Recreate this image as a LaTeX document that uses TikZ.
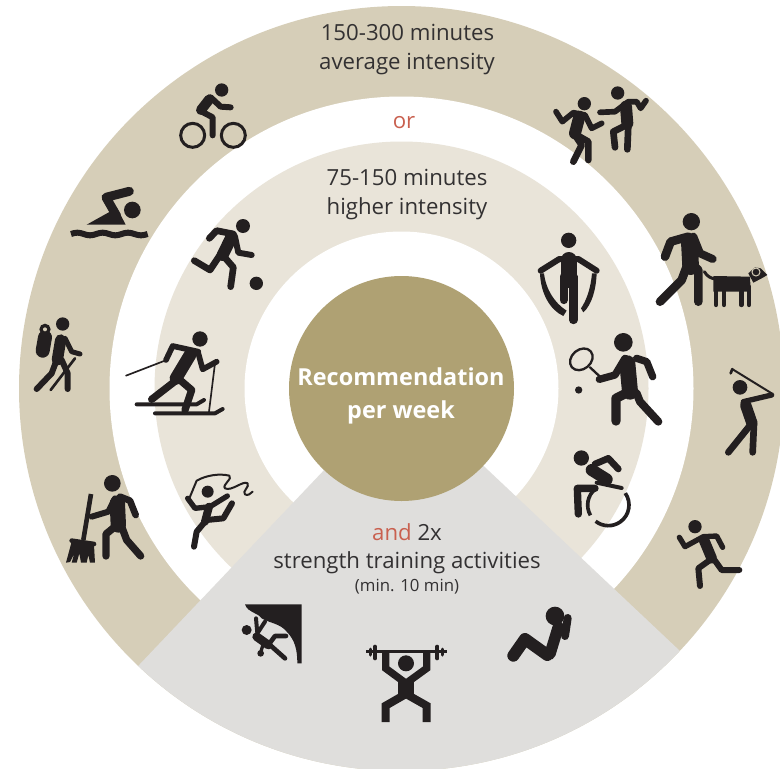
\documentclass[tikz,border=0pt]{standalone}
\usepackage{fontspec}
\usetikzlibrary{calc}
\setmainfont{Open Sans}
\definecolor{ringout}{HTML}{D6CEB8}
\definecolor{ringin}{HTML}{E9E4D9}
\definecolor{hub}{HTML}{AFA173}
\definecolor{wedge}{HTML}{DFDEDC}
\definecolor{ink}{HTML}{231F20}
\definecolor{txt}{HTML}{333132}
\definecolor{redtxt}{HTML}{C9604F}
\tikzset{
  zm/.style 2 args={shift={(#1,#2)},x=0.33333pt,y=-0.33333pt},
  ln/.style={draw=ink,line cap=round,line join=round,line width=#1*0.33333pt},
  bt/.style={draw=ink,line cap=butt,line join=miter,line width=#1*0.33333pt},
  lab/.style={anchor=base,text=txt,font=\fontsize{22.2}{26}\selectfont,inner sep=0pt},
}
\begin{document}
\begin{tikzpicture}[x=1pt,y=-1pt]
\useasboundingbox (0,0) rectangle (780,769);
\clip (0,0) rectangle (780,769);
\coordinate (c) at (401.5,388.5);
% rings
\fill[ringout] (c) circle (382.5);
\fill[white] (c) circle (292);
\fill[ringin] (c) circle (247);
\fill[white] (c) circle (157);
% wedge
\begin{scope}
\clip (c) circle (382.5);
\fill[wedge] (c) -- ($(c)!1.2!(140,664)$) -- (401.5,1000) -- ($(c)!1.2!(680,651)$) -- cycle;
\end{scope}
\fill[hub] (c) circle (112.5);
% texts
\node[lab] (t1) at (407.5,40) {150-300 minutes};
\node[lab] (t2) at (407,69) {average intensity};
\node[lab,text=redtxt] (t3) at (404,128) {or};
\node[lab] (t4) at (407,185) {75-150 minutes};
\node[lab] (t5) at (407,214) {higher intensity};
\node[lab,text=white,font=\fontsize{23.4}{28}\selectfont\bfseries] (t6) at (401,385) {Recommendation};
\node[lab,text=white,font=\fontsize{23.4}{28}\selectfont\bfseries] (t7) at (401,418) {per week};
\node[lab] (t8) at (407,540) {\textcolor{redtxt}{and} 2x};
\node[lab] (t9) at (407,568) {strength training activities};
\node[lab,font=\fontsize{16.8}{20}\selectfont] (t10) at (407,591) {(min. 10 min)};
% ---- zoom (0,60)
\begin{scope}[zm={0}{60}]
% cyclist
\fill[ink] (665,90) circle (20);
\draw[ln=30] (628,118)--(603,150);
\draw[ln=18] (632,112)--(662,140)--(692,142);
\draw[ln=18] (600,152)--(638,172)--(638,226);
\draw[ln=9] (578,226) circle (36);
\draw[ln=9] (700,226) circle (36);
% swimmer
\fill[ink] (397,450) circle (25);
\draw[ln=27] (388,394)--(318,412)--(350,468);
\fill[ink] (260,494)--(377,494)--(350,442)--(330,455)--cycle;
\draw[bt=18] (213,522) sin (232,518) cos (251,522) sin (270,526) cos (289,522) sin (308,518) cos (327,522) sin (346,526) cos (365,522) sin (384,518) cos (403,522) sin (423,526) cos (443,522);
% soccer
\fill[ink] (729,498) circle (21);
\draw[ln=20] (628,535)--(650,512)--(700,522);
\draw[ln=18] (705,530)--(715,578)--(755,585);
\draw[ln=36] (695,530)--(668,585);
\draw[ln=20] (660,585)--(630,630)--(583,602);
\draw[ln=20] (668,585)--(700,622)--(692,680);
\fill[ink] (769,670) circle (20);
\end{scope}
% ---- zoom (520,60)
\begin{scope}[zm={520}{60}]
% dancer 1
\fill[ink] (193,131) circle (20);
\draw[ln=36] (178,170)--(165,220);
\draw[ln=17] (108,155)--(127,185)--(160,158)--(195,165)--(215,205)--(245,190);
\draw[ln=20] (165,225)--(185,255)--(160,305);
\draw[ln=20] (170,225)--(205,245)--(205,300);
% dancer 2
\fill[ink] (293,99) circle (20);
\draw[ln=36] (318,140)--(322,190);
\draw[ln=17] (240,157)--(285,155)--(325,125)--(350,125)--(362,145)--(378,122);
\draw[ln=20] (320,195)--(280,215)--(285,262);
\draw[ln=20] (325,195)--(322,268);
% walker
\fill[ink] (514,485) circle (26);
\draw[ln=50] (508,545)--(512,620);
\draw[ln=26] (435,590)--(452,545)--(505,530);
\draw[ln=24] (520,530)--(540,580)--(578,597);
\draw[ln=26] (500,620)--(485,660)--(420,725);
\draw[ln=26] (525,620)--(535,630)--(535,725);
% dog
\fill[ink] (580,648)--(690,650)--(692,695)--(580,695)--cycle;
\draw[ln=9] (553,635) .. controls (562,650) and (572,655) .. (590,658);
\foreach \dx in {588,612,664,687}{\draw[ln=13] (\dx,680)--(\dx,735);}
\fill[ink] (685,640)--(705,622)--(722,625)--(742,645)--(725,655)--(700,668)--cycle;
\draw[draw=ringout,line width=1pt] (708,636) circle (12);
% rope jumper
\fill[ink] (146,541) circle (23);
\draw[ln=18] (62,632)--(118,597)--(175,597)--(230,632);
\draw[ln=48] (146,600)--(146,660);
\draw[ln=25] (131,650)--(131,720);
\draw[ln=25] (160,650)--(160,780);
\fill[ink] (60,640)--(72,640) .. controls (78,690) and (105,730) .. (140,752)--(130,768) .. controls (90,750) and (62,700) .. (60,640)--cycle;
\fill[ink] (230,640)--(216,640) .. controls (212,685) and (200,720) .. (183,745)--(190,757) .. controls (215,735) and (228,690) .. (230,640)--cycle;
\end{scope}
% ---- zoom (20,310)
\begin{scope}[zm={20}{310}]
% hiker
\fill[ink] (128,42) circle (20);
\draw[ln=42] (75,82)--(68,122);
\fill[ink] (75,58) circle (17);
\fill[ringout] (75,58) circle (6);
\draw[ln=34] (122,90)--(112,150);
\draw[ln=15] (135,85)--(155,125)--(180,132);
\draw[ln=18] (110,150)--(95,190)--(50,237);
\draw[ln=18] (125,150)--(143,190)--(143,237);
\draw[ln=8] (165,145)--(92,240);
% skier
\fill[ink] (540,87) circle (23);
\draw[ln=38] (510,135)--(468,205);
\draw[ln=17] (438,150)--(458,108)--(535,125);
\draw[ln=17] (535,130)--(548,178)--(590,155);
\draw[ln=22] (470,210)--(395,268);
\draw[ln=22] (480,210)--(515,240)--(495,300);
\draw[ln=12] (350,283)--(530,283)--(552,270);
\draw[ln=12] (405,310)--(585,310)--(608,297);
\draw[ln=5] (432,153)--(318,197);
\draw[ln=5] (585,160)--(567,305);
% gymnast
\fill[ink] (563,545) circle (18);
\draw[ln=24] (567,590)--(555,635);
\draw[ln=16] (503,565)--(525,595)--(570,590)--(622,558);
\draw[ln=18] (555,635)--(530,665)--(522,710);
\draw[ln=18] (560,630)--(610,625)--(636,580);
\draw[ln=6] (508,565)--(530,512) .. controls (560,495) and (600,490) .. (628,497) .. controls (640,505) and (605,525) .. (615,535) .. controls (635,545) and (670,510) .. (683,520) .. controls (690,530) and (665,545) .. (675,553) .. controls (682,558) and (692,552) .. (698,545);
% sweeper
\fill[ink] (277,520) circle (25);
\draw[ln=46] (292,580)--(295,645);
\draw[ln=18] (215,620)--(265,605)--(285,565);
\draw[ln=20] (300,560)--(330,572)--(347,615);
\draw[ln=22] (285,650)--(258,672)--(258,738);
\draw[ln=22] (305,650)--(320,690)--(362,738);
\draw[bt=14] (213,552)--(190,690);
\draw[ln=14] (155,692)--(222,702);
\fill[ink] (155,695)--(222,705)--(225,758)--(210,758)--(205,735)--(200,758)--(183,758)--(178,730)--(170,758)--(155,758)--(163,730)--(150,756)--(138,758)--cycle;
\end{scope}
% ---- zoom (540,320)
\begin{scope}[zm={540}{320}]
% tennis
\fill[ink] (250,67) circle (28);
\draw[ln=48] (262,130)--(270,215);
\draw[ln=22] (178,178)--(225,165)--(255,115);
\draw[ln=22] (290,115)--(320,125)--(338,170);
\draw[ln=28] (268,215)--(228,235)--(228,303);
\draw[ln=24] (290,220)--(300,245)--(355,305);
\draw[ln=7,rotate around={40:(124,118)}] (124,118) ellipse (37 and 29);
\draw[ln=7] (150,142)--(180,170);
\fill[ink] (116,210) circle (11);
% golf
\fill[ink] (600,202) circle (22);
\draw[ln=34] (617,255)--(636,310);
\draw[ln=16] (610,245)--(695,225);
\draw[ln=6] (695,220)--(578,148);
\draw[ln=8] (577,147)--(572,160);
\draw[ln=20] (635,310)--(565,397);
\draw[ln=20] (642,310)--(638,397);
% wheelchair
\fill[ink] (124,414) circle (23);
\draw[ln=36] (155,450)--(200,478);
\draw[ln=20] (165,432)--(205,415)--(235,447);
\draw[ln=12] (170,488)--(245,504);
\draw[ln=22] (165,505)--(112,505)--(115,582);
\draw[bt=11] (205,555) ++(150:62) arc[start angle=150,end angle=232,radius=62];
\draw[bt=11] (205,555) ++(-35:62) arc[start angle=-35,end angle=128,radius=62];
% runner
\fill[ink] (465,620) circle (20);
\draw[ln=32] (492,660)--(515,715);
\draw[ln=16] (418,652)--(435,680)--(490,650)--(530,648)--(548,682);
\draw[ln=18] (510,720)--(475,745)--(480,798);
\draw[ln=18] (520,715)--(545,750)--(598,750);
\end{scope}
% ---- zoom (220,590)
\begin{scope}[zm={220}{590}]
% climber
\fill[ink] (75,43)--(245,43)--(245,220)--(232,220) .. controls (232,180) and (225,150) .. (200,125) .. controls (180,100) and (150,100) .. (125,85) .. controls (110,65) and (85,70) .. (75,43)--cycle;
\fill[ink] (80,120) circle (15);
\draw[ln=26] (110,140)--(145,165);
\draw[ln=12] (108,85)--(112,130)--(135,95);
\draw[ln=14] (145,165)--(165,138)--(198,138);
\draw[ln=14] (150,165)--(195,205);
\draw[ln=10] (130,160)--(122,188);
\fill[ink] (122,190) circle (10);
% lifter
\draw[bt=8] (438,185)--(680,185);
\draw[ln=12] (465,170)--(465,205);
\draw[ln=12] (652,170)--(652,205);
\draw[ln=9] (450,177)--(450,195);
\draw[ln=9] (667,177)--(667,195);
\fill[ink] (558,220) circle (24);
\draw[bt=22] (497,185)--(497,235)--(558,280)--(620,235)--(620,185);
\draw[bt=46] (558,270)--(558,325);
\draw[bt=24] (558,312)--(497,347)--(497,396);
\draw[bt=24] (558,312)--(620,347)--(620,396);
\end{scope}
% ---- zoom (490,590) situp
\begin{scope}[zm={490}{590}]
\fill[ink] (195,78) circle (28);
\draw[ln=24] (233,84)--(225,138);
\draw[ln=34] (205,110)--(180,192);
\draw[ln=36] (70,197)--(105,147)--(172,195);
\end{scope}
\end{tikzpicture}
\end{document}
